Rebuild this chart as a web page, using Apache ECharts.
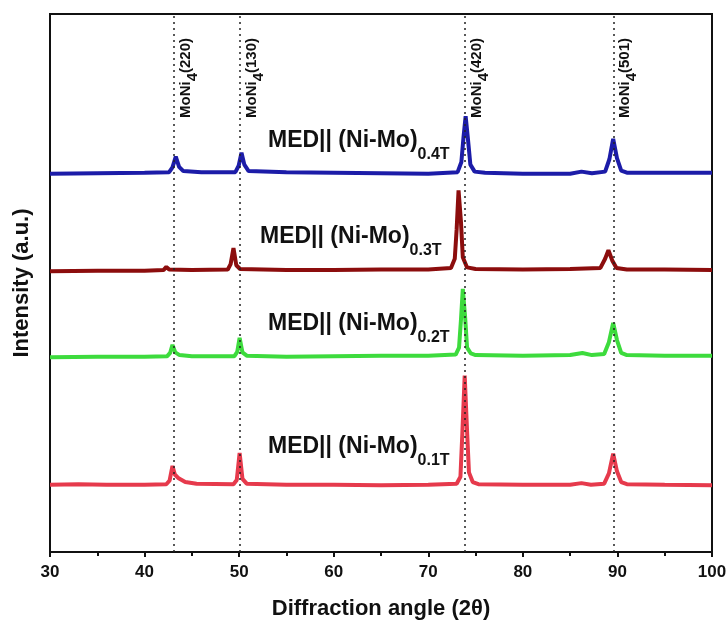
<!DOCTYPE html>
<html>
<head>
<meta charset="utf-8">
<script src="https://cdn.jsdelivr.net/npm/echarts@6/dist/echarts.min.js"></script>
<style>
  html, body { margin: 0; padding: 0; background: #fff; }
  #xrd { width: 728px; height: 624px; }
</style>
</head>
<body>
<div id="xrd"></div>
<script>
// XRD patterns, offset vertically (intensity in arbitrary units)
const sample01T = [
  [30, 12.5], [33, 12.6], [36, 12.5], [40, 12.5], [42.3, 12.6], [42.65, 13.3], [42.95, 16.0],
  [43.2, 14.4], [43.6, 13.7], [44.3, 13.0], [45.5, 12.7], [49.4, 12.6], [49.75, 13.4],
  [50.05, 18.4], [50.35, 13.6], [50.8, 12.7], [55, 12.5], [60, 12.5], [65, 12.4], [70, 12.5],
  [73.0, 12.7], [73.4, 14.0], [73.6, 22.0], [73.85, 32.8], [74.1, 22.5], [74.3, 14.8],
  [74.7, 13.0], [75.3, 12.6], [80, 12.5], [85, 12.5], [86.2, 12.8], [87.2, 12.5], [88.6, 12.7],
  [89.1, 14.6], [89.55, 18.3], [89.95, 15.0], [90.4, 13.0], [91, 12.6], [95, 12.5], [100, 12.4]
];
const sample02T = [
  [30, 36.2], [35, 36.3], [40, 36.3], [42.4, 36.4], [42.7, 37.0], [42.95, 38.5], [43.25, 37.1],
  [43.7, 36.6], [45, 36.4], [49.5, 36.4], [49.8, 37.2], [50.05, 39.8], [50.35, 37.1],
  [50.8, 36.5], [55, 36.3], [60, 36.4], [65, 36.5], [70, 36.5], [72.9, 36.7], [73.25, 38.0],
  [73.45, 43.0], [73.65, 48.9], [73.9, 43.5], [74.1, 38.0], [74.5, 36.9], [75, 36.6],
  [80, 36.5], [85, 36.6], [86.3, 37.0], [87.3, 36.6], [88.6, 36.8], [89.1, 39.0],
  [89.55, 42.6], [89.95, 39.4], [90.4, 37.0], [91, 36.6], [95, 36.5], [100, 36.5]
];
const sample03T = [
  [30, 52.2], [35, 52.3], [40, 52.3], [42.0, 52.4], [42.3, 53.0], [42.6, 52.5], [45, 52.4],
  [48.8, 52.5], [49.1, 53.5], [49.4, 56.5], [49.7, 53.3], [50.1, 52.6], [55, 52.4],
  [60, 52.4], [65, 52.5], [70, 52.5], [72.4, 52.8], [72.8, 54.5], [73.0, 60.0],
  [73.2, 67.2], [73.45, 61.5], [73.65, 54.8], [74.1, 52.9], [75, 52.6], [80, 52.5],
  [85, 52.6], [88.2, 52.8], [88.7, 54.5], [89.05, 56.1], [89.45, 54.2], [89.9, 52.8],
  [91, 52.5], [95, 52.5], [100, 52.4]
];
const sample04T = [
  [30, 70.3], [35, 70.4], [40, 70.5], [42.6, 70.6], [42.95, 71.5], [43.3, 73.5], [43.65, 71.6],
  [44.1, 70.8], [46, 70.6], [49.6, 70.6], [49.95, 71.8], [50.25, 74.2], [50.55, 72.0],
  [51.0, 70.8], [55, 70.6], [60, 70.5], [65, 70.4], [70, 70.3], [73.1, 70.6], [73.5, 72.5],
  [73.72, 77.0], [73.95, 81.0], [74.18, 77.0], [74.45, 72.0], [74.9, 70.7], [76, 70.5],
  [80, 70.3], [85, 70.3], [86.2, 70.7], [87.3, 70.4], [88.7, 70.7], [89.15, 73.0],
  [89.55, 76.8], [89.95, 73.2], [90.4, 70.9], [91, 70.5], [95, 70.5], [100, 70.5]
];
const seriesNames = ['0.1T', '0.2T', '0.3T', '0.4T'];
const seriesColors = ['#e63a4c', '#3ddb3d', '#8c0d0d', '#1c1ca8'];
const peakPositions = [43.1, 50.1, 73.9, 89.6];
const peakLabels = ['(220)', '(130)', '(420)', '(501)'];
const xTicks = [30, 40, 50, 60, 70, 80, 90, 100];

const FONT = "'Liberation Sans', Arial, sans-serif";

var myChart = echarts.init(document.getElementById('xrd'));

const allData = [sample01T, sample02T, sample03T, sample04T];

// 曲线标签的位置（像素）
const labelPos = [[268, 452], [268, 329], [260, 242], [268, 146]];

let option = {
  animation: false,
  grid: {
    left: 50,
    right: 16,
    top: 14,
    bottom: 72,
    outerBoundsMode: 'none',
    show: true,
    borderColor: '#111',
    borderWidth: 2,
    backgroundColor: 'transparent'
  },
  xAxis: {
    type: 'value',
    min: xTicks[0],
    max: xTicks[xTicks.length - 1],
    interval: 10,
    name: 'Diffraction angle (2θ)',
    nameLocation: 'middle',
    nameGap: 46,
    nameTextStyle: { fontFamily: FONT, fontWeight: 'bold', fontSize: 22, color: '#111' },
    axisLine: { lineStyle: { color: '#111', width: 2 } },
    axisTick: { inside: false, length: 5, lineStyle: { color: '#111', width: 2 } },
    minorTick: { show: true, splitNumber: 2, length: 4, lineStyle: { color: '#111', width: 2 } },
    axisLabel: { fontFamily: FONT, fontWeight: 'bold', fontSize: 17, color: '#111', margin: 12 },
    splitLine: { show: false }
  },
  yAxis: {
    type: 'value',
    min: 0,
    max: 100,
    name: 'Intensity (a.u.)',
    nameLocation: 'middle',
    nameGap: 17,
    nameTextStyle: { fontFamily: FONT, fontWeight: 'bold', fontSize: 22, color: '#111' },
    axisLine: { show: true, lineStyle: { color: '#111', width: 2 } },
    axisTick: { show: false },
    axisLabel: { show: false },
    splitLine: { show: false }
  },
  series: allData.map((d, i) => ({
    name: seriesNames[i],
    type: 'line',
    data: d,
    showSymbol: false,
    smooth: false,
    lineStyle: { color: seriesColors[i], width: 4 },
    z: 3
  })),
  graphic: labelPos.map((p, i) => ({
    type: 'text',
    left: p[0],
    top: p[1] - 17,
    z: 10,
    style: {
      text: '{a|MED|| (Ni-Mo)}{s|' + seriesNames[i] + '}',
      rich: {
        a: { fontFamily: FONT, fontWeight: 'bold', fontSize: 23, fill: '#111', lineHeight: 34, verticalAlign: 'top' },
        s: { fontFamily: FONT, fontWeight: 'bold', fontSize: 16, fill: '#111', lineHeight: 34, verticalAlign: 'bottom' }
      }
    }
  }))
};

// 虚线标记峰位
option.series.push({
  type: 'line',
  data: [],
  markLine: {
    silent: true,
    symbol: 'none',
    lineStyle: { type: [2, 4], color: '#222', width: 1.5 },
    label: {
      show: true,
      position: 'insideEndBottom',
      distance: [24, 4],
      formatter: (p) => '{a|MoNi}{s|4}{a|' + peakLabels[p.dataIndex] + '}',
      rich: {
        a: { fontFamily: FONT, fontWeight: 'bold', fontSize: 15, color: '#111', lineHeight: 22, verticalAlign: 'top' },
        s: { fontFamily: FONT, fontWeight: 'bold', fontSize: 15, color: '#111', lineHeight: 22, verticalAlign: 'bottom' }
      }
    },
    data: peakPositions.map((x) => ({ xAxis: x }))
  }
});

myChart.setOption(option);
</script>
</body>
</html>
